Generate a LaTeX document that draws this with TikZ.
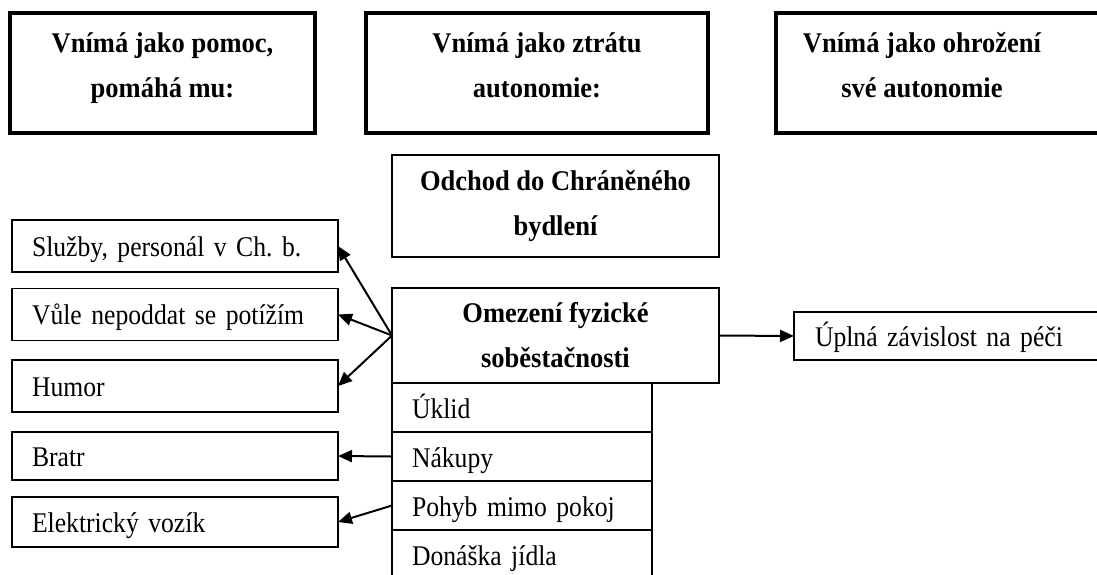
\documentclass[tikz,border=0pt]{standalone}
\usepackage{fontspec}
\setmainfont{Liberation Serif}[FakeStretch=0.93]
\newfontfamily\bodyfont{Liberation Serif}[FakeStretch=0.90, WordSpace=0.85]
\usetikzlibrary{arrows.meta,positioning}

% extra depth below the last line of a heading
\newcommand{\lowend}{\rule[-16pt]{0pt}{1pt}}

\begin{document}
\frenchspacing
\begin{tikzpicture}[x=1pt,y=-1pt,
  every node/.style={outer sep=0pt},
  headbox/.style={draw, line width=3.5pt, minimum height=120pt, align=center,
    inner sep=0pt, font=\bfseries\fontsize{28.5}{45}\selectfont},
  midbox/.style={draw, line width=1.8pt, minimum width=327pt, align=center,
    inner sep=0pt, font=\bfseries\fontsize{28.5}{45}\selectfont},
  leftbox/.style={draw, line width=1.8pt, anchor=west, text width=286pt,
    inner xsep=20pt, inner ysep=0pt, minimum height=52pt, align=left,
    text height=22pt, text depth=2pt,
    font=\bodyfont\fontsize{28.5}{30}\selectfont},
  rowbox/.style={draw, line width=1.8pt, text width=220pt, inner xsep=20pt,
    inner ysep=0pt, minimum height=49pt, align=left,
    text height=22pt, text depth=1pt,
    font=\bodyfont\fontsize{28.5}{30}\selectfont},
  conn/.style={line width=2pt, -{Triangle[length=14pt,width=12pt]}}
]
\useasboundingbox (0,0) rectangle (1097,574);
\clip (0,0) rectangle (1097,574);

% column headings
\node[headbox, minimum width=305pt] (help) at (162.5,73) {Vnímá jako pomoc,\\pomáhá mu:\lowend};
\node[headbox, minimum width=342pt] (loss) at (537,73) {Vnímá jako ztrátu\\autonomie:\lowend};
\node[headbox, draw=none, minimum width=292pt] (threat) at (922,73) {Vnímá jako ohrožení\\své autonomie\lowend};
\draw[line width=3.5pt] ([xshift=400pt]threat.north west) -- (threat.north west)
  -- (threat.south west) -- ([xshift=400pt]threat.south west);

% central column
\node[midbox, minimum height=102pt] (move) at (555.5,206) {Odchod do Chráněného\\bydlení};
\node[midbox, minimum height=95pt] (phys) at (555.5,335.5) {Omezení fyzické\\soběstačnosti};

% list of affected activities (the last row runs on past the page)
\node[rowbox, anchor=north west] (r1) at (phys.south west) {Úklid};
\node[rowbox, below=0pt of r1] (r2) {Nákupy};
\node[rowbox, below=0pt of r2] (r3) {Pohyb mimo pokoj};
\node[rowbox, below=0pt of r3] (r4) {Donáška jídla};

% sources of help
\node[leftbox] (staff) at (12,246) {Služby, personál v Ch. b.};
\node[leftbox] (will) at (12,314.5) {Vůle nepoddat se potížím};
\node[leftbox] (humor) at (12,386) {Humor};
\node[leftbox, minimum height=48pt] (brother) at (12,456) {Bratr};
\node[leftbox, minimum height=50pt] (chair) at (12,522) {Elektrický vozík};

% consequence on the right
\node[leftbox, minimum height=48pt, text width=300pt, inner xsep=21pt] (care) at (794,336) {Úplná závislost na péči};

% connectors
\draw[conn] (phys.west) -- (staff.east);
\draw[conn] (phys.west) -- (will.east);
\draw[conn] (phys.west) -- (humor.east);
\draw[conn] (r2.west) -- (brother.east);
\draw[conn] (r3.west) -- (chair.east);
\draw[conn] (phys.east) -- (care.west);
\end{tikzpicture}
\end{document}
